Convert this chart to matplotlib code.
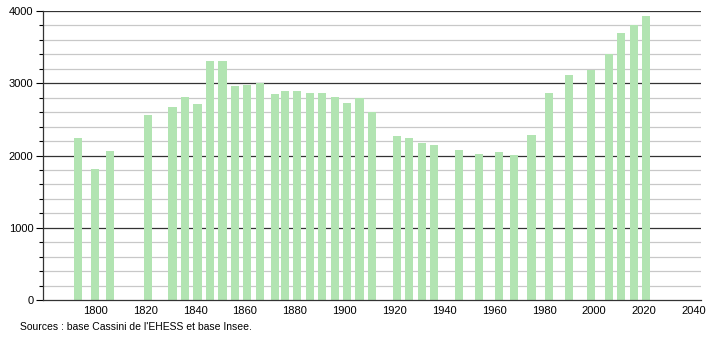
import matplotlib.pyplot as plt
from matplotlib.ticker import MultipleLocator

plt.rcParams['font.family'] = ['Liberation Sans', 'DejaVu Sans']

years = [1793, 1800, 1806, 1821, 1831, 1836, 1841, 1846, 1851, 1856,
         1861, 1866, 1872, 1876, 1881, 1886, 1891, 1896, 1901, 1906,
         1911, 1921, 1926, 1931, 1936, 1946, 1954, 1962, 1968, 1975,
         1982, 1990, 1999, 2006, 2011, 2016, 2021]
population = [2242, 1813, 2062, 2556, 2671, 2810, 2713, 3308, 3308, 2962,
              2976, 2999, 2851, 2897, 2892, 2865, 2865, 2810, 2727, 2791,
              2597, 2274, 2242, 2173, 2150, 2076, 2021, 2048, 2007, 2284,
              2865, 3114, 3183, 3401, 3700, 3806, 3935]
xticks = [1800, 1820, 1840, 1860, 1880, 1900, 1920, 1940, 1960, 1980, 2000, 2020, 2040]
source = "Sources : base Cassini de l'EHESS et base Insee."

fig = plt.figure(figsize=(7.1, 3.4), dpi=100)
ax = fig.add_axes([43 / 710, 40 / 340, 658 / 710, 289 / 340])

# grid: light lines every 200, dark every 1000
for v in range(200, 4001, 200):
    if v % 1000 == 0:
        ax.axhline(v, color='#333333', lw=0.9, zorder=1)
    else:
        ax.axhline(v, color='#c8c8c8', lw=0.9, zorder=1)

ax.bar(years, population, width=3.3, color='#b2e4b2', zorder=2)

ax.set_xlim(1779, 2043)
ax.set_ylim(0, 4000)
ax.set_xticks(xticks)
ax.yaxis.set_major_locator(MultipleLocator(1000))
ax.yaxis.set_minor_locator(MultipleLocator(200))
ax.tick_params(axis='y', which='major', length=5, width=0.8, labelsize=8, pad=2)
ax.tick_params(axis='y', which='minor', length=3, width=0.8)
ax.tick_params(axis='x', length=0, labelsize=8, pad=4)

for s in ['top', 'right']:
    ax.spines[s].set_visible(False)
ax.spines['left'].set_color('#333333')
ax.spines['bottom'].set_color('#333333')
ax.spines['left'].set_linewidth(0.9)
ax.spines['bottom'].set_linewidth(0.9)

fig.text(20 / 710, 1 - 327 / 340, source, fontsize=7.5, va='center', ha='left')

plt.savefig('out.png', dpi=100)
plt.close()
